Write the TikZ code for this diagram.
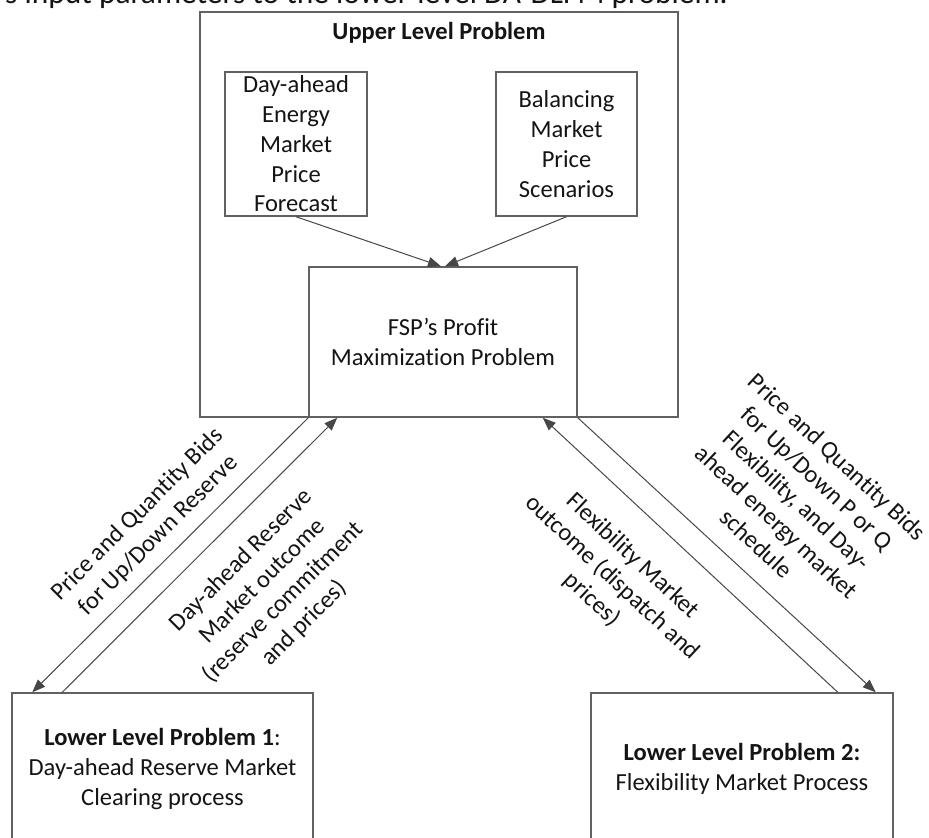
\documentclass[tikz,border=0pt]{standalone}
\usepackage{fontspec}
\setmainfont{Carlito}[Ligatures={NoCommon}]
\usetikzlibrary{arrows.meta}
\begin{document}
\begin{tikzpicture}[x=0.75pt,y=-0.75pt,
  font=\fontsize{18.4}{22.3}\selectfont,
  box/.style={draw=black!62, line width=1.1pt, rectangle, inner sep=0pt, align=center, text=black!92},
  flow/.style={draw=black!72, line width=0.75pt, -{Triangle[length=9.75pt,width=7.5pt]}},
  lbl/.style={align=center, inner sep=0pt, text=black!92}]
\useasboundingbox (0,0) rectangle (929,838);
\clip (0,0) rectangle (929,838);

% running text above the figure
\node[lbl, anchor=base east, font=\fontsize{23.6}{28}\selectfont] (cap) at (728,4)
  {s input parameters to the lower-level DA-DLFM problem.};

% upper level
\node[box, minimum width=358.5pt, minimum height=303.75pt] (upper) at (439,214.5) {};
\node[lbl] (uptitle) at (439,33) {\bfseries Upper Level Problem};
\node[box, minimum width=106.5pt, minimum height=108pt] (dam) at (296,144)
  {Day-ahead\\Energy\\Market\\Price\\Forecast};
\node[box, minimum width=105.75pt, minimum height=108pt] (bal) at (566.5,144)
  {Balancing\\Market\\Price\\Scenarios};
\node[box, minimum width=201pt, minimum height=112.5pt] (fsp) at (443,342)
  {FSP’s Profit\\Maximization Problem};

% lower levels
\node[box, minimum width=225.75pt, minimum height=114pt] (lo1) at (162.5,769)
  {{\bfseries Lower Level Problem 1}:\\Day-ahead Reserve Market\\Clearing process};
\node[box, minimum width=226.5pt, minimum height=114pt] (lo2) at (742,769)
  {{\bfseries Lower Level Problem 2:}\\Flexibility Market Process};

% inputs of the upper level problem
\draw[flow] (dam.south) -- ([xshift=-1.5pt]fsp.north);
\draw[flow] (bal.south) -- ([xshift=1.5pt]fsp.north);

% exchanges with lower level problem 1
\draw[flow] (fsp.south west) -- ([xshift=15.75pt]lo1.north west);
\draw[flow] ([xshift=38.25pt]lo1.north west) -- ([xshift=21.75pt]fsp.south west);

% exchanges with lower level problem 2
\draw[flow] (fsp.south east) -- ([xshift=-13.5pt]lo2.north east);
\draw[flow] ([xshift=-42pt]lo2.north east) -- ([xshift=-26.25pt]fsp.south east);

% connector labels
\node[lbl, rotate=45] (labA) at (148,525)
  {Price and Quantity Bids\\for Up/Down Reserve};
\node[lbl, rotate=45] (labB) at (273,592)
  {Day-ahead Reserve\\Market outcome\\(reserve commitment\\and prices)};
\node[lbl, rotate=-43] (labC) at (797,500)
  {Price and Quantity Bids\\for Up/Down P or Q\\Flexibility, and Day-\\ahead energy market\\schedule};
\node[lbl, rotate=-43] (labD) at (612,578)
  {Flexibility Market\\outcome (dispatch and\\prices)};
\end{tikzpicture}
\end{document}
